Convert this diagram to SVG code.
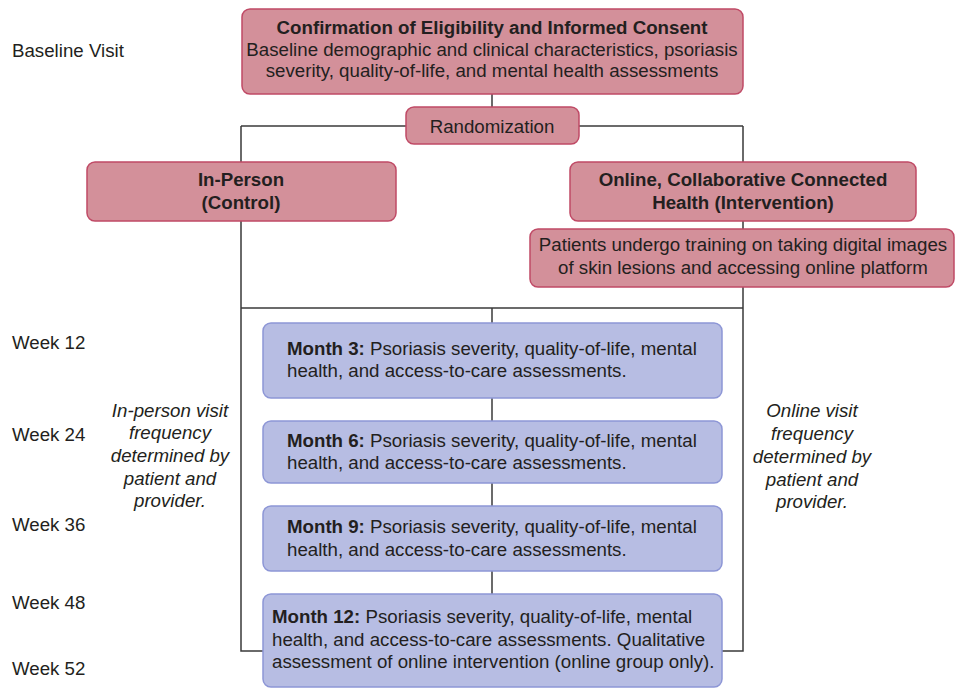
<svg xmlns="http://www.w3.org/2000/svg" width="956" height="688" viewBox="0 0 956 688">
<style>
text{font-family:"Liberation Sans",Arial,sans-serif;font-size:18.7px;fill:#231f20}
.b{font-weight:bold}
.i{font-style:italic}
.c{text-anchor:middle}
.pink{fill:#d3909a;stroke:#c04a66;stroke-width:1.5}
.blue{fill:#b7bde3;stroke:#8d96d6;stroke-width:1.5}
.ln{fill:none;stroke:#3a3a3a;stroke-width:1.5}
</style>
<rect width="956" height="688" fill="#fff"/>
<g id="connectors">
<path class="ln" d="M492 94V107"/>
<path class="ln" d="M241 126H743"/>
<path class="ln" d="M241 126V651H263"/>
<path class="ln" d="M743 126V651H722"/>
<path class="ln" d="M241 308H743"/>
<path class="ln" d="M492 308V594"/>
</g>
<g id="labels">
<text x="12" y="57">Baseline Visit</text>
<text x="12" y="349">Week 12</text>
<text x="12" y="441">Week 24</text>
<text x="12" y="531">Week 36</text>
<text x="12" y="609">Week 48</text>
<text x="12" y="675">Week 52</text>
</g>
<g id="consent">
<rect class="pink" x="242" y="9" width="501" height="85" rx="8"/>
<text class="c b" x="492" y="34">Confirmation of Eligibility and Informed Consent</text>
<text class="c" x="492" y="56">Baseline demographic and clinical characteristics, psoriasis</text>
<text class="c" x="492" y="77">severity, quality-of-life, and mental health assessments</text>
</g>
<g id="randomization">
<rect class="pink" x="406" y="107" width="173" height="37" rx="8"/>
<text class="c" x="492" y="133">Randomization</text>
</g>
<g id="inperson">
<rect class="pink" x="87" y="162" width="309" height="59" rx="8"/>
<text class="c b" x="241" y="186">In-Person</text>
<text class="c b" x="241" y="209">(Control)</text>
</g>
<g id="online">
<rect class="pink" x="570" y="162" width="346" height="59" rx="8"/>
<text class="c b" x="743" y="186">Online, Collaborative Connected</text>
<text class="c b" x="743" y="209">Health (Intervention)</text>
</g>
<g id="training">
<rect class="pink" x="530" y="229" width="424" height="58" rx="8"/>
<text class="c" x="743" y="251">Patients undergo training on taking digital images</text>
<text class="c" x="743" y="274">of skin lesions and accessing online platform</text>
</g>
<g id="inperson-note">
<text class="c i" x="170" y="417">In-person visit</text>
<text class="c i" x="170" y="439">frequency</text>
<text class="c i" x="170" y="462">determined by</text>
<text class="c i" x="170" y="485">patient and</text>
<text class="c i" x="170" y="507">provider.</text>
</g>
<g id="online-note">
<text class="c i" x="812" y="417">Online visit</text>
<text class="c i" x="812" y="440">frequency</text>
<text class="c i" x="812" y="463">determined by</text>
<text class="c i" x="812" y="486">patient and</text>
<text class="c i" x="812" y="508">provider.</text>
</g>
<g id="month3">
<rect class="blue" x="263" y="323" width="459" height="75" rx="8"/>
<text x="287" y="355"><tspan class="b">Month 3:</tspan> Psoriasis severity, quality-of-life, mental</text>
<text x="287" y="377">health, and access-to-care assessments.</text>
</g>
<g id="month6">
<rect class="blue" x="263" y="421" width="459" height="62" rx="8"/>
<text x="287" y="447"><tspan class="b">Month 6:</tspan> Psoriasis severity, quality-of-life, mental</text>
<text x="287" y="469">health, and access-to-care assessments.</text>
</g>
<g id="month9">
<rect class="blue" x="263" y="506" width="459" height="65" rx="8"/>
<text x="287" y="533"><tspan class="b">Month 9:</tspan> Psoriasis severity, quality-of-life, mental</text>
<text x="287" y="556">health, and access-to-care assessments.</text>
</g>
<g id="month12">
<rect class="blue" x="263" y="594" width="459" height="93" rx="8"/>
<text x="272" y="623"><tspan class="b">Month 12:</tspan> Psoriasis severity, quality-of-life, mental</text>
<text x="272" y="646">health, and access-to-care assessments. Qualitative</text>
<text x="272" y="668">assessment of online intervention (online group only).</text>
</g>
</svg>
